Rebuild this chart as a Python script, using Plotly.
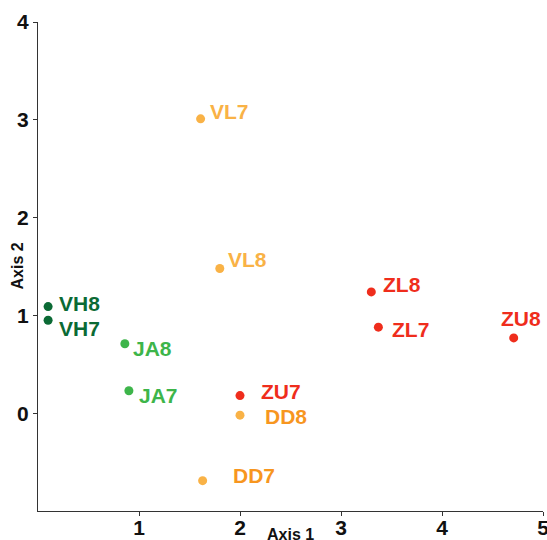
import plotly.graph_objects as go

# Ordination scores of the samples
samples = ["VL7", "VL8", "VH8", "VH7", "JA8", "JA7", "ZU7", "DD8", "DD7", "ZL8", "ZL7", "ZU8"]
axis1 = [1.61, 1.80, 0.10, 0.10, 0.86, 0.90, 2.00, 2.00, 1.63, 3.30, 3.37, 4.71]
axis2 = [3.01, 1.48, 1.09, 0.95, 0.71, 0.23, 0.18, -0.02, -0.69, 1.24, 0.88, 0.77]
groups = ["VL", "VL", "VH", "VH", "JA", "JA", "Z", "DD", "DD", "Z", "Z", "Z"]

x_ticks = [1, 2, 3, 4, 5]
y_ticks = [0, 1, 2, 3, 4]

point_colors = {"VL": "#f9b246", "VH": "#0b6a35", "JA": "#3db54a", "Z": "#ef2d1c", "DD": "#f9b246"}
label_colors = {"VL": "#f9b246", "VH": "#0b6a35", "JA": "#3db54a", "Z": "#ef2d1c", "DD": "#f7961f"}

# Pixel offsets of each text label from its point (repelled labels)
label_offsets = {
    "VL7": (7, 7, "left"), "VL8": (6, 9, "left"), "VH8": (9, 3, "left"),
    "VH7": (9, -8, "left"), "JA8": (6, -5, "left"), "JA7": (8, -5, "left"),
    "ZU7": (19, 4, "left"), "DD8": (23, -1, "left"), "DD7": (28, 5, "left"),
    "ZL8": (10, 7, "left"), "ZL7": (12, -2, "left"), "ZU8": (7, 19, "center"),
}

fig = go.Figure()
fig.add_trace(go.Scatter(
    x=axis1, y=axis2, mode="markers",
    marker=dict(size=9, color=[point_colors[g] for g in groups]),
    hovertext=samples, showlegend=False,
))

annotations = []
for name, xv, yv, g in zip(samples, axis1, axis2, groups):
    dx, dy, anchor = label_offsets[name]
    annotations.append(dict(
        x=xv, y=yv, text=f"<b>{name}</b>", showarrow=False,
        xanchor=anchor, yanchor="middle", xshift=dx, yshift=dy,
        font=dict(family="Liberation Sans, Arial", size=21, color=label_colors[g]),
    ))

# Axis titles
annotations.append(dict(
    x=0.5, y=0, xref="paper", yref="paper", text="<b>Axis 1</b>", showarrow=False,
    xanchor="center", yanchor="middle", yshift=-23,
    font=dict(family="Liberation Sans, Arial", size=16, color="#111111"),
))
annotations.append(dict(
    x=0, y=0.5, xref="paper", yref="paper", text="<b>Axis 2</b>", showarrow=False,
    xanchor="center", yanchor="middle", xshift=-21, textangle=-90,
    font=dict(family="Liberation Sans, Arial", size=16, color="#111111"),
))

axis_style = dict(
    showgrid=False, zeroline=False, showline=True, linecolor="#333333", linewidth=1.3,
    ticks="outside", ticklen=4, tickwidth=1, tickcolor="#333333",
    tickfont=dict(family="Liberation Sans, Arial", size=21, color="#111111"),
    automargin=False, ticklabeloverflow="allow",
)

fig.update_layout(
    width=547, height=540,
    margin=dict(l=38, r=4, t=22, b=29),
    plot_bgcolor="white", paper_bgcolor="white",
    xaxis=dict(range=[0, 5], tickvals=x_ticks, ticktext=[f"<b>{v}</b>" for v in x_ticks],
               ticklabelstandoff=-6, **axis_style),
    yaxis=dict(range=[-1, 4], tickvals=y_ticks, ticktext=[f"<b>{v}</b>" for v in y_ticks], **axis_style),
    annotations=annotations,
)

fig.write_html("out.html")
